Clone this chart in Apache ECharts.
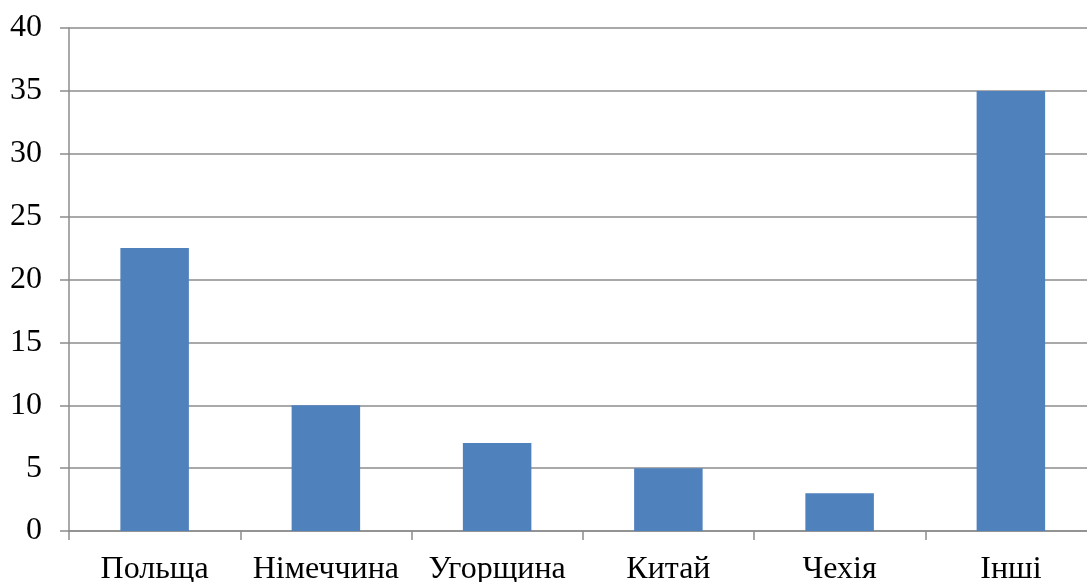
<!DOCTYPE html>
<html><head><meta charset="utf-8">
<script src="https://cdn.jsdelivr.net/npm/echarts@6/dist/echarts.min.js"></script>
<style>html,body{margin:0;padding:0;background:#fff}#c{width:1087px;height:582px}</style>
</head><body><div id="c"></div>
<script>
const categories = ['Польща', 'Німеччина', 'Угорщина', 'Китай', 'Чехія', 'Інші'];
const values = [22.5, 10, 7, 5, 3, 35];
const yMin = 0, yMax = 40, yStep = 5;

const chart = echarts.init(document.getElementById('c'), null, {renderer: 'canvas'});
const font = '"Liberation Serif", "Times New Roman", serif';
chart.setOption({
  animation: false,
  grid: {left: 69, top: 28, bottom: 51, width: 1027.5, outerBoundsMode: 'none', containLabel: false},
  xAxis: {
    type: 'category', data: categories,
    axisLine: {lineStyle: {color: '#8c8c8c', width: 1.5}},
    axisTick: {show: true, length: 9, lineStyle: {color: '#8c8c8c', width: 1.5}},
    axisLabel: {color: '#000', fontFamily: font, fontSize: 32, margin: 23, interval: 0, hideOverlap: false}
  },
  yAxis: {
    type: 'value', min: yMin, max: yMax, interval: yStep,
    axisLine: {show: true, lineStyle: {color: '#8c8c8c', width: 1.5}},
    axisTick: {show: true, length: 9, lineStyle: {color: '#8c8c8c', width: 1.5}},
    splitLine: {lineStyle: {color: '#8c8c8c', width: 1.5}},
    axisLabel: {color: '#000', fontFamily: font, fontSize: 32, margin: 27}
  },
  series: [{
    type: 'bar', data: values, barWidth: '40%',
    itemStyle: {color: '#4f81bd'}
  }]
});
</script></body></html>
